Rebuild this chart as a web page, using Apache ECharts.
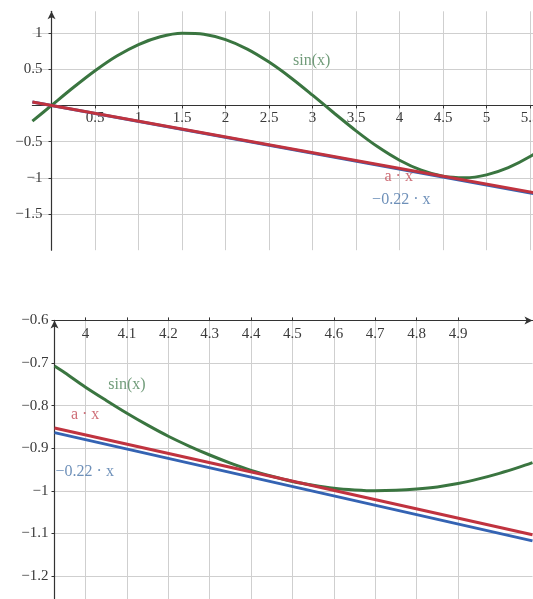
<!DOCTYPE html>
<html>
<head>
<meta charset="utf-8">
<script src="https://cdn.jsdelivr.net/npm/echarts@6/dist/echarts.min.js"></script>
<style>
  html, body { margin: 0; padding: 0; background: #fff; }
  #chart { width: 533px; height: 599px; }
</style>
</head>
<body>
<div id="chart"></div>
<script>
// ---- Overview panel: sin(x) with the tangent line through the origin ----
const overviewX   = [-0.22, 0, 0.25, 0.5, 0.75, 1, 1.25, 1.5, 1.75, 2, 2.25, 2.5, 2.75,
                     3, 3.25, 3.5, 3.75, 4, 4.25, 4.5, 4.75, 5, 5.25, 5.5, 5.75];
const overviewSin = [-0.218, 0, 0.247, 0.479, 0.682, 0.841, 0.949, 0.997, 0.984, 0.909, 0.778, 0.598, 0.382,
                     0.141, -0.108, -0.351, -0.572, -0.757, -0.895, -0.978, -0.999, -0.959, -0.859, -0.706, -0.508];
const overviewLineX   = [-0.22, 5.75];
const overviewTangent = [0.048, -1.249];   // a · x
const overviewApprox  = [0.048, -1.265];   // −0.22 · x
const overviewXTicks  = [0.5, 1, 1.5, 2, 2.5, 3, 3.5, 4, 4.5, 5, 5.5];
const overviewYTicks  = [-1.5, -1, -0.5, 0.5, 1];

// ---- Detail panel: close-up around the touching point ----
const detailX   = [3.925, 3.95, 4, 4.05, 4.1, 4.15, 4.2, 4.25, 4.3, 4.35, 4.4, 4.45, 4.5,
                   4.55, 4.6, 4.65, 4.7, 4.75, 4.8, 4.85, 4.9, 4.95, 5, 5.05, 5.08];
const detailSin = [-0.707, -0.723, -0.757, -0.788, -0.818, -0.846, -0.872, -0.895, -0.916, -0.935, -0.952, -0.966, -0.978,
                   -0.987, -0.994, -0.998, -1.000, -0.999, -0.996, -0.991, -0.983, -0.972, -0.959, -0.944, -0.934];
const detailLineX   = [3.925, 5.08];
const detailTangent = [-0.8525, -1.1034];  // a · x
const detailApprox  = [-0.8635, -1.1176];  // −0.22 · x
const detailXTicks  = [4, 4.1, 4.2, 4.3, 4.4, 4.5, 4.6, 4.7, 4.8, 4.9];
const detailYTicks  = [-1.2, -1.1, -1, -0.9, -0.8, -0.7, -0.6];

const curveLabels = ['sin(x)', 'a · x', '−0.22 · x'];

const FONT = '"Liberation Serif", "DejaVu Serif", serif';
const GREEN = '#3a7540', RED = '#c0333f', BLUE = '#3463b3';
const GREEN_T = '#4c8258', RED_T = '#c24a55', BLUE_T = '#4a74a8';
const AXIS = '#333', GRID = '#cfcfcf', TICK_TEXT = '#3a3a3a';

const fmt = v => (v < 0 ? '−' : '') + Math.abs(v);
const pairs = (xs, ys) => xs.map((x, i) => [x, ys[i]]);

// overview panel geometry: the axes cross at the origin, inside the plot area
const OV = { left: 32.4, top: 11.3, width: 519.4, height: 238.9, xMin: -0.22, xMax: 5.75, yMin: -2, yMax: 1.3 };
const ovZeroFromBottom = OV.height * (0 - OV.yMin) / (OV.yMax - OV.yMin);
const ovZeroFromLeft   = OV.width * (0 - OV.xMin) / (OV.xMax - OV.xMin);

function valueAxis(extra, ticks, label) {
  return Object.assign({
    type: 'value',
    axisLine: { show: true, onZero: false, lineStyle: { color: AXIS, width: 1.2 }, symbol: ['none', 'arrow'], symbolSize: [6, 8] },
    axisTick: { show: true, length: 3, customValues: ticks, lineStyle: { color: AXIS } },
    axisLabel: Object.assign({ customValues: ticks, formatter: fmt, fontFamily: FONT, fontSize: 15, color: TICK_TEXT }, label),
    splitLine: { show: true, lineStyle: { color: GRID, width: 1 } }
  }, extra);
}

function line(name, data, color, xi) {
  return {
    name, type: 'line', xAxisIndex: xi, yAxisIndex: xi, data,
    smooth: data.length > 2 ? 0.3 : false, showSymbol: false, silent: true,
    lineStyle: { color, width: 3 }, z: 3
  };
}

function tag(text, pos, color, xi) {
  return {
    type: 'scatter', xAxisIndex: xi, yAxisIndex: xi, symbolSize: 0, silent: true, z: 5,
    data: [{ value: pos, name: text }],
    label: { show: true, position: 'inside', formatter: text, color, fontFamily: FONT, fontSize: 16 }
  };
}

const chart = echarts.init(document.getElementById('chart'), null, { renderer: 'canvas' });

chart.setOption({
  animation: false,
  backgroundColor: '#fff',
  grid: [
    { left: OV.left, top: OV.top, width: OV.width, height: OV.height, outerBoundsMode: 'none' },
    { left: 54.5, top: 320.4, width: 478, height: 279, outerBoundsMode: 'none' }
  ],
  xAxis: [
    valueAxis({ gridIndex: 0, min: OV.xMin, max: OV.xMax, position: 'bottom', offset: -ovZeroFromBottom },
              overviewXTicks, { margin: 5 }),
    valueAxis({ gridIndex: 1, min: 3.925, max: 5.08, position: 'top' },
              detailXTicks, { inside: true, margin: 6 })
  ],
  yAxis: [
    valueAxis({ gridIndex: 0, min: OV.yMin, max: OV.yMax, position: 'left', offset: -ovZeroFromLeft },
              overviewYTicks, { margin: 9 }),
    valueAxis({ gridIndex: 1, min: -1.255, max: -0.6, position: 'left' },
              detailYTicks, { margin: 6 })
  ],
  series: [
    line('sin', pairs(overviewX, overviewSin), GREEN, 0),
    line('approx', pairs(overviewLineX, overviewApprox), BLUE, 0),
    line('tangent', pairs(overviewLineX, overviewTangent), RED, 0),
    tag(curveLabels[0], [2.99, 0.61], GREEN_T, 0),
    tag(curveLabels[1], [3.99, -0.99], RED_T, 0),
    tag(curveLabels[2], [4.02, -1.31], BLUE_T, 0),

    line('sin', pairs(detailX, detailSin), GREEN, 1),
    line('approx', pairs(detailLineX, detailApprox), BLUE, 1),
    line('tangent', pairs(detailLineX, detailTangent), RED, 1),
    tag(curveLabels[0], [4.10, -0.752], GREEN_T, 1),
    tag(curveLabels[1], [3.999, -0.822], RED_T, 1),
    tag(curveLabels[2], [3.998, -0.956], BLUE_T, 1)
  ]
});
</script>
</body>
</html>
